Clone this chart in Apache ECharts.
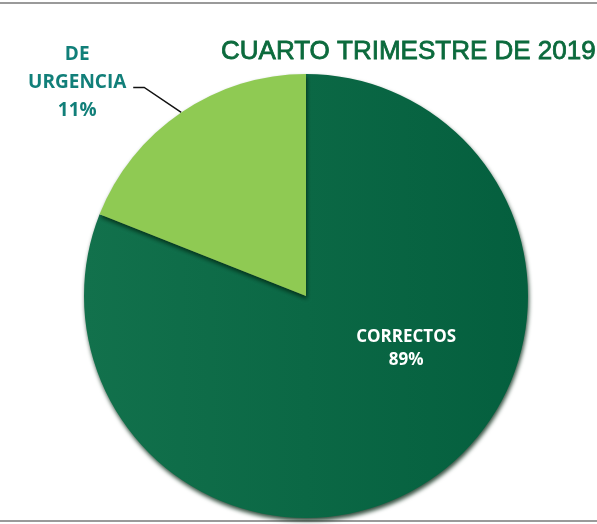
<!DOCTYPE html>
<html>
<head>
<meta charset="utf-8">
<script src="https://cdn.jsdelivr.net/npm/echarts@6/dist/echarts.min.js"></script>
<style>
  html, body { margin: 0; padding: 0; background: #fff; }
  #main { width: 597px; height: 524px; }
</style>
</head>
<body>
<div id="main"></div>
<script>
// slice sizes, percent texts as printed on it
var categories = ['CORRECTOS', 'DE\nURGENCIA'];
var sliceValues = [81, 19];
var percentLabels = ['89%', '11%'];

var myChart = echarts.init(document.getElementById('main'));

var darkFill = new echarts.graphic.LinearGradient(0, 0, 1, 0, [
    { offset: 0, color: '#12714c' },
    { offset: 1, color: '#045f3e' }
]);

var option = {
    backgroundColor: '#fff',
    title: {
        text: 'CUARTO TRIMESTRE DE 2019',
        left: 216,
        top: 34,
        textStyle: {
            fontFamily: 'Liberation Sans',
            fontSize: 26,
            fontWeight: 'normal',
            color: '#0b6a3c',
            textBorderColor: '#0b6a3c',
            textBorderWidth: 0.8
        }
    },
    graphic: [
        { type: 'line', shape: { x1: 0, y1: 3, x2: 597, y2: 3 }, style: { stroke: '#9a9a9a', lineWidth: 2 } },
        { type: 'line', shape: { x1: 0, y1: 521, x2: 597, y2: 521 }, style: { stroke: '#9a9a9a', lineWidth: 2 } }
    ],
    series: [
        {
            type: 'pie',
            center: [306, 296],
            radius: 222,
            startAngle: 90,
            clockwise: true,
            silent: true,
            itemStyle: {
                shadowColor: 'rgba(0, 35, 15, 0.8)',
                shadowBlur: 4,
                shadowOffsetX: 1,
                shadowOffsetY: 3
            },
            label: {
                fontFamily: 'Open Sans',
                fontWeight: 'bold',
                fontSize: 17,
                formatter: function (p) {
                    return categories[p.dataIndex] + '\n' + percentLabels[p.dataIndex];
                }
            },
            labelLine: {
                lineStyle: { color: '#111', width: 1.5 }
            },
            labelLayout: function (params) {
                if (params.dataIndex !== 1 || !params.labelLinePoints) return;
                var e = params.labelLinePoints[0];
                return {
                    x: e[0] - 104,
                    y: e[1] - 30,
                    align: 'center',
                    verticalAlign: 'middle',
                    labelLinePoints: [e, [e[0] - 37, e[1] - 25], [e[0] - 48, e[1] - 25]]
                };
            },
            data: [
                {
                    name: categories[0],
                    value: sliceValues[0],
                    itemStyle: { color: darkFill },
                    label: { position: 'inside', color: '#fff', lineHeight: 23, offset: [36, -42] },
                    labelLine: { show: false }
                },
                {
                    name: categories[1],
                    value: sliceValues[1],
                    itemStyle: { color: '#8fca53' },
                    label: { position: 'outside', color: '#117f79', fontSize: 19, lineHeight: 28, align: 'center' },
                    labelLine: { show: true, length: 20, length2: 10 }
                }
            ]
        }
    ]
};
myChart.setOption(option);
</script>
</body>
</html>
